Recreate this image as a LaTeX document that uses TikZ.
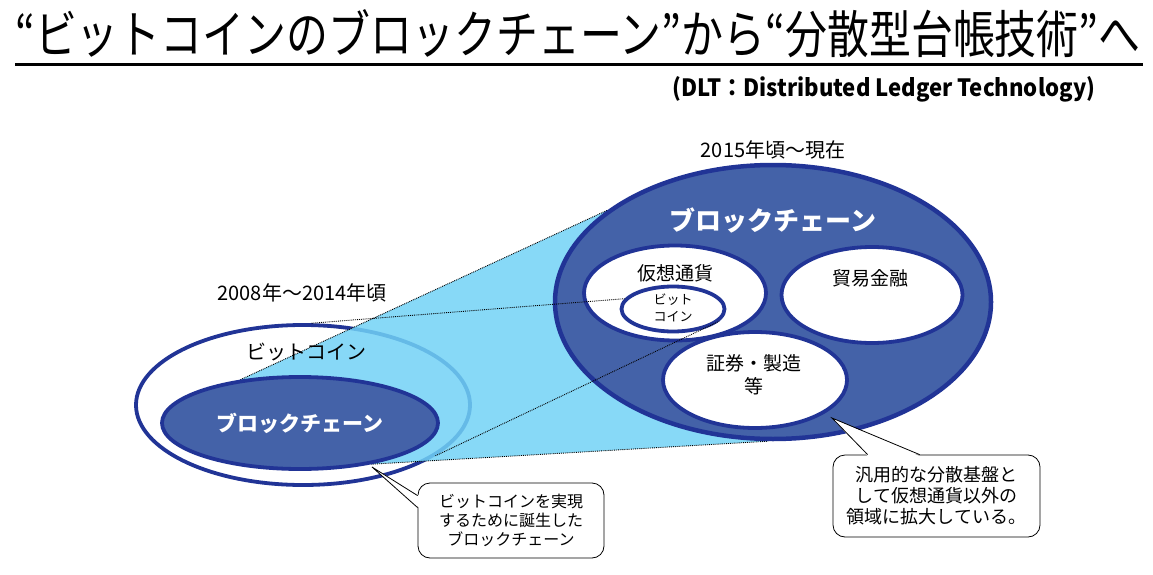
\documentclass[tikz,border=0pt]{standalone}
\usepackage{fontspec}
\setmainfont{Noto Sans CJK JP}
\usepackage{tikz}
\usetikzlibrary{calc,positioning,shapes.geometric,backgrounds}
\definecolor{dlblue}{RGB}{68,98,168}
\definecolor{dlline}{RGB}{33,52,150}
\definecolor{dlsky}{RGB}{114,210,246}
\tikzset{
  ring/.style={ellipse, draw=dlline, line width=3.8pt, fill=white, inner sep=0pt},
  bluering/.style={ring, fill=dlblue, text=white, font=\bfseries\fontsize{21}{25}\selectfont},
  lbl/.style={font=\fontsize{19}{23}\selectfont, inner sep=0pt, align=center},
  era/.style={font=\fontsize{20}{24}\selectfont, inner sep=0pt},
  dots/.style={densely dotted, line width=0.9pt},
  note/.style={draw, line width=0.8pt, rounded corners=12pt, fill=white, align=center, inner sep=0pt},
  pointer/.style={line width=0.8pt}
}

\begin{document}
\begin{tikzpicture}[x=1pt, y=-1pt]
  \useasboundingbox (0,0) rectangle (1153,575);
  \node[anchor=base west, inner sep=0pt] (title) at (15,54) {\resizebox{1125pt}{44pt}{“ビットコインのブロックチェーン”から“分散型台帳技術”へ}};
  \draw[line width=3pt] ([yshift=-10.5pt]title.base west) -- ++(1128,0);
  \node[anchor=base west, inner sep=0pt] (sub) at (672,97) {\resizebox{423pt}{20pt}{\bfseries (DLT：Distributed Ledger Technology)}};

  \node[era] (now) at (773,150) {2015年頃～現在};
  \node[era] (past) at (302,293) {2008年～2014年頃};

  \node[bluering, minimum width=276pt, minimum height=92pt] (lbc) at (300,423) {ブロックチェーン};
  \node[ring, fill=dlblue, line width=4.5pt, minimum width=436pt, minimum height=274pt] (big) at (773,302) {};
  \node[lbl, text=white, font=\bfseries\fontsize{26}{30}\selectfont] (bigtxt) at (773,220) {ブロックチェーン};

  \begin{scope}[on background layer]
    \node[ring, minimum width=334pt, minimum height=160pt] (btc) at (303,405) {};
    \fill[dlsky, opacity=0.85] (lbc.144) -- (big.151) -- (big.268) -- (lbc.-30) -- cycle;
    \draw[dots] (lbc.144) -- (big.151);
    \draw[dots] (lbc.-30) -- (big.268);
  \end{scope}
  \node[era] (btctxt) at (306,352) {ビットコイン};

  \node[ring, minimum width=182pt, minimum height=95pt] (va) at (675,293) {};
  \node[lbl] (vatxt) at (675,273) {仮想通貨};
  \node[ring, minimum width=103pt, minimum height=45pt] (vbtc) at (673,309) {};
  \node[lbl, font=\fontsize{13}{17}\selectfont] (vbtctxt) at (673,308) {ビット\\コイン};
  \node[ring, minimum width=181pt, minimum height=96pt] (trade) at (872,295) {};
  \node[lbl] (tradetxt) at (870,278) {貿易金融};
  \node[ring, minimum width=184pt, minimum height=96pt] (sec) at (755,380) {};
  \node[lbl] (sectxt) at (754,375) {証券・製造\\等};

  \draw[dots] (btc.84) -- (vbtc.168);
  \draw[dots] (btc.-21) -- (vbtc.-15);

  \node[note, minimum width=186pt, minimum height=75pt, font=\fontsize{16}{19}\selectfont] (note1) at (511,520.5) {ビットコインを実現\\するために誕生した\\ブロックチェーン};
  \coordinate (tip1) at (372,467);
  \fill[white] ([xshift=1.5pt,yshift=-13pt]note1.north west) -- (tip1) -- ([xshift=1.5pt,yshift=-25pt]note1.north west) -- cycle;
  \draw[pointer] ([yshift=-13pt]note1.north west) -- (tip1) -- ([yshift=-25pt]note1.north west);

  \node[note, minimum width=207pt, minimum height=82pt, font=\fontsize{18}{21}\selectfont] (note2) at (936.5,496) {汎用的な分散基盤と\\して仮想通貨以外の\\領域に拡大している。};
  \coordinate (tip2) at (832,418);
  \fill[white] ([xshift=35pt,yshift=-1.5pt]note2.north west) -- (tip2) -- ([xshift=87pt,yshift=-1.5pt]note2.north west) -- cycle;
  \draw[pointer] ([xshift=35pt]note2.north west) -- (tip2) -- ([xshift=87pt]note2.north west);
\end{tikzpicture}
\end{document}
